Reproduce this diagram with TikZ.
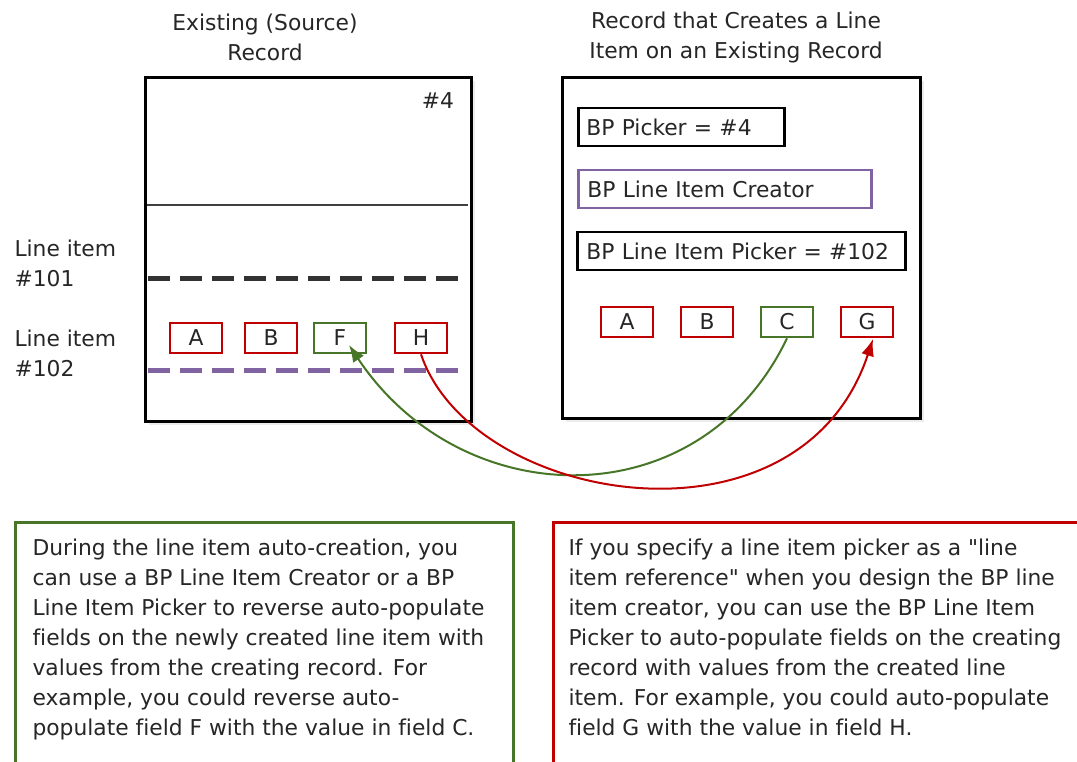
\documentclass[tikz,border=0pt]{standalone}
\usepackage{fontspec}
\setmainfont[Ligatures=NoCommon]{DejaVu Sans}
\usetikzlibrary{arrows.meta,shadows}
\definecolor{cred}{RGB}{192,0,0}
\definecolor{cgreen}{RGB}{72,118,40}
\definecolor{cpurple}{RGB}{128,100,162}
\definecolor{cdark}{RGB}{50,50,50}
\tikzset{
  txt/.style={font=\fontsize{21.8}{30}\selectfont, text=black!85},
  record/.style={draw=black, line width=3pt, fill=white, drop shadow={opacity=0.15, shadow xshift=4pt, shadow yshift=-4pt}},
  field/.style={txt, draw, line width=2.6pt, fill=white, minimum width=52pt, minimum height=30pt, inner sep=0pt},
  redfield/.style={field, draw=cred},
  greenfield/.style={field, draw=cgreen},
  picker/.style={txt, draw, line width=2.8pt, fill=white, anchor=west, minimum height=38pt, inner sep=0pt, text width=#1, align=left},
  note/.style={line width=3pt, fill=white},
  link/.style={line width=2pt, -{Latex[length=17pt,width=13pt]}},
}
\begin{document}
\begin{tikzpicture}[x=1pt,y=-1pt]
\useasboundingbox (0,0) rectangle (1077,761);
% titles
\node[txt, align=center] (t1) at (265,37) {Existing (Source)\\Record};
\node[txt, align=center] (t2) at (736,37) {Record that Creates a Line\\Item on an Existing Record};
% left record
\path[record] (145,77) rectangle (471,421);
\node[txt] (n4) at (438,101) {\#4};
\draw[line width=1.3pt, black!75] (147,205) -- (468,205);
\draw[line width=5pt, cdark, dash pattern=on 22pt off 10pt] (148,278) -- (462,278);
\draw[line width=5pt, cpurple, dash pattern=on 22pt off 10pt] (148,370) -- (462,370);
\node[txt, anchor=west, align=left] (l101) at (11,263) {Line item\\\#101};
\node[txt, anchor=west, align=left] (l102) at (11,353) {Line item\\\#102};
\node[redfield] (A1) at (196,338) {A};
\node[redfield] (B1) at (271,338) {B};
\node[greenfield] (F) at (340,338) {F};
\node[redfield] (H) at (421,338) {H};
% right record
\path[record] (562,77) rectangle (920,418);
\node[picker=206pt, draw=black] (bp) at (577,127) {\hspace{8pt}BP Picker = \#4};
\node[picker=293pt, draw=cpurple] (lic) at (577,189) {\hspace{9pt}BP Line Item Creator};
\node[picker=328pt, draw=black] (lip) at (576,251) {\hspace{9pt}BP Line Item Picker = \#102};
\node[redfield] (A2) at (627,322) {A};
\node[redfield] (B2) at (707,322) {B};
\node[greenfield] (C) at (787,322) {C};
\node[redfield] (G) at (867,322) {G};
% connectors
\draw[link, cgreen] (C.south) .. controls (700,520) and (462,515) .. (349,345);
\draw[link, cred] (H.south) .. controls (472,505) and (800,560) .. (873,339);
% notes
\draw[note, draw=cgreen] (15,522) rectangle (513,780);
\node[txt, anchor=north west, align=left] (n1) at (29,535) {During the line item auto-creation, you\\can use a BP Line Item Creator or a BP\\Line Item Picker to reverse auto-populate\\fields on the newly created line item with\\values from the creating record. For\\example, you could reverse auto-\\populate field F with the value in field C.};
\draw[note, draw=cred] (553,522) rectangle (1095,780);
\node[txt, anchor=north west, align=left] (n2) at (565,535) {If you specify a line item picker as a \textquotedbl line\\item reference\textquotedbl{} when you design the BP line\\item creator, you can use the BP Line Item\\Picker to auto-populate fields on the creating\\record with values from the created line\\item. For example, you could auto-populate\\field G with the value in field H.};
\end{tikzpicture}
\end{document}
